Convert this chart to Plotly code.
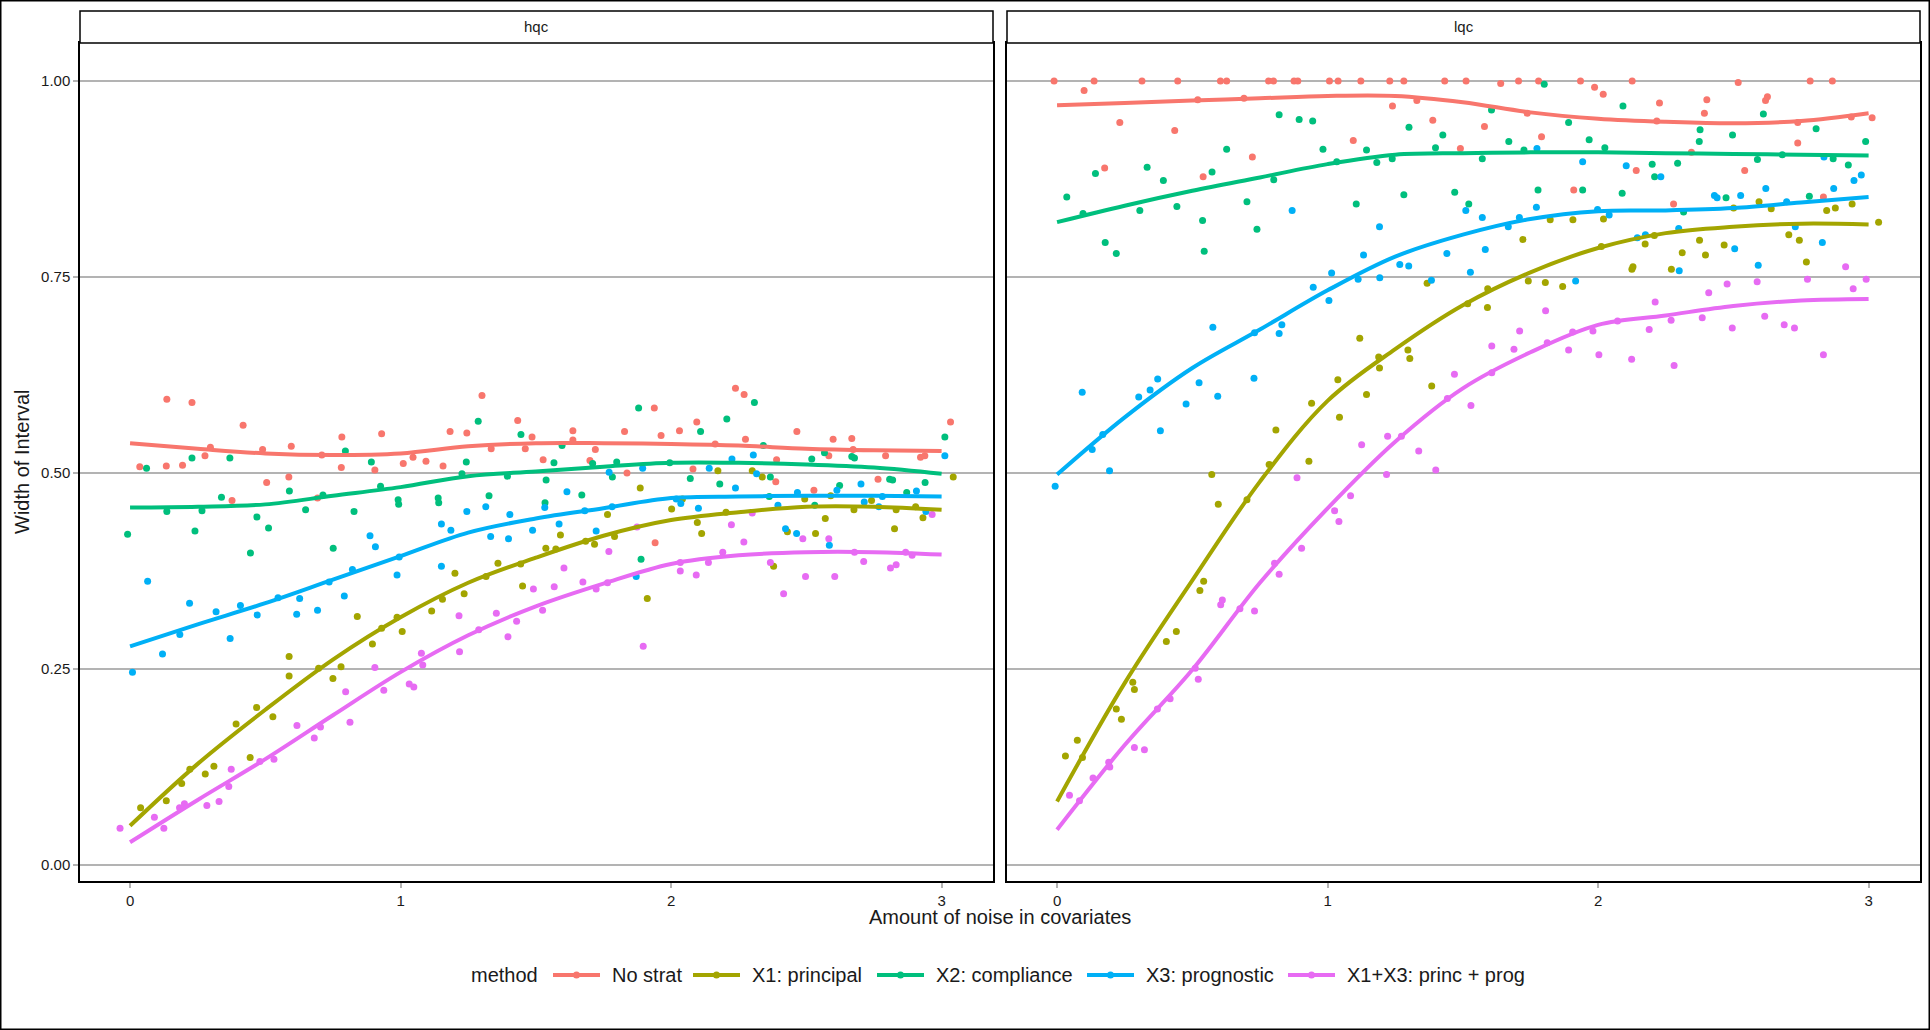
import plotly.graph_objects as go

# ---------------- data ----------------
methods = ["No strat", "X1: principal", "X2: compliance", "X3: prognostic", "X1+X3: princ + prog"]
colors = ["#F8766D", "#A3A500", "#00BF7D", "#00B0F6", "#E76BF3"]
panels = ["hqc", "lqc"]
x_ticks = [0, 1, 2, 3]
y_ticks = [0.0, 0.25, 0.5, 0.75, 1.0]

# --- hqc points ---
hqc_nostrat_x = [0.036,0.136,0.134,0.194,0.229,0.297,0.277,0.418,0.377,0.490,0.505,0.596,0.587,0.693,0.709,0.783,0.781,0.905,0.930,1.010,1.046,1.094,1.157,1.183,1.245,1.301,1.335,1.433,1.461,1.486,1.527,1.637,1.637,1.700,1.720,1.828,1.837,1.938,1.963,1.941,2.031,2.081,2.095,2.163,2.238,2.270,2.275,2.387,2.390,2.465,2.528,2.583,2.599,2.668,2.673,2.765,2.793,2.922,2.938,3.033]
hqc_nostrat_y = [0.508,0.594,0.509,0.510,0.590,0.533,0.522,0.561,0.465,0.530,0.488,0.534,0.495,0.468,0.523,0.546,0.507,0.504,0.550,0.512,0.520,0.515,0.509,0.553,0.551,0.599,0.531,0.567,0.531,0.546,0.517,0.554,0.542,0.516,0.530,0.553,0.500,0.583,0.548,0.411,0.554,0.505,0.565,0.537,0.608,0.600,0.543,0.489,0.517,0.553,0.478,0.522,0.543,0.544,0.530,0.492,0.522,0.520,0.522,0.565]

hqc_x1_x = [0.039,0.134,0.191,0.221,0.278,0.310,0.392,0.444,0.468,0.528,0.588,0.588,0.697,0.750,0.780,0.840,0.896,0.930,0.987,1.006,1.115,1.155,1.201,1.235,1.316,1.360,1.444,1.451,1.537,1.574,1.591,1.684,1.717,1.765,1.791,1.886,1.912,2.002,2.042,2.097,2.113,2.173,2.203,2.300,2.337,2.379,2.430,2.494,2.534,2.570,2.590,2.676,2.741,2.826,2.832,2.904,2.931,3.043]
hqc_x1_y = [0.073,0.082,0.104,0.122,0.116,0.126,0.180,0.137,0.201,0.189,0.241,0.266,0.251,0.238,0.253,0.317,0.282,0.302,0.316,0.298,0.324,0.339,0.372,0.346,0.368,0.385,0.384,0.356,0.404,0.403,0.421,0.413,0.409,0.447,0.419,0.481,0.340,0.454,0.467,0.437,0.423,0.503,0.450,0.503,0.495,0.381,0.425,0.467,0.423,0.442,0.471,0.453,0.465,0.429,0.453,0.457,0.443,0.495]

hqc_x2_x = [-0.009,0.061,0.136,0.229,0.240,0.266,0.338,0.369,0.445,0.469,0.512,0.589,0.649,0.713,0.751,0.796,0.828,0.892,0.926,0.991,0.993,1.139,1.141,1.227,1.243,1.287,1.327,1.395,1.445,1.534,1.538,1.567,1.597,1.670,1.710,1.783,1.799,1.880,1.889,1.995,2.071,2.109,2.180,2.206,2.308,2.341,2.363,2.367,2.520,2.531,2.567,2.623,2.668,2.678,2.808,2.819,2.871,2.939,3.012]
hqc_x2_y = [0.422,0.506,0.451,0.519,0.426,0.452,0.469,0.519,0.398,0.444,0.430,0.477,0.453,0.472,0.404,0.528,0.451,0.514,0.483,0.466,0.460,0.468,0.462,0.499,0.514,0.566,0.471,0.496,0.549,0.462,0.491,0.513,0.535,0.472,0.512,0.495,0.514,0.583,0.390,0.513,0.493,0.553,0.486,0.569,0.590,0.535,0.470,0.495,0.518,0.459,0.526,0.484,0.521,0.519,0.492,0.491,0.475,0.488,0.546]

hqc_x3_x = [0.009,0.065,0.120,0.184,0.220,0.318,0.370,0.408,0.470,0.547,0.616,0.627,0.693,0.736,0.792,0.822,0.887,0.907,0.987,0.995,1.151,1.151,1.186,1.245,1.315,1.333,1.399,1.404,1.488,1.533,1.586,1.615,1.681,1.723,1.771,1.782,1.871,1.895,2.019,2.036,2.101,2.141,2.225,2.238,2.304,2.316,2.395,2.423,2.464,2.467,2.585,2.613,2.702,2.714,2.768,2.781,2.907,2.942,3.012]
hqc_x3_y = [0.246,0.362,0.269,0.294,0.334,0.323,0.289,0.331,0.319,0.341,0.320,0.340,0.325,0.361,0.343,0.377,0.420,0.406,0.370,0.393,0.435,0.381,0.427,0.451,0.457,0.419,0.416,0.447,0.427,0.456,0.435,0.476,0.452,0.426,0.501,0.457,0.368,0.506,0.467,0.461,0.455,0.506,0.518,0.481,0.523,0.499,0.459,0.429,0.423,0.475,0.408,0.478,0.486,0.463,0.457,0.470,0.477,0.451,0.522]

hqc_x13_x = [-0.037,0.090,0.125,0.183,0.201,0.284,0.329,0.365,0.374,0.480,0.532,0.617,0.681,0.704,0.797,0.813,0.905,0.938,1.032,1.049,1.077,1.082,1.216,1.218,1.289,1.354,1.397,1.429,1.491,1.525,1.568,1.604,1.674,1.723,1.765,1.770,1.874,1.897,2.034,2.034,2.093,2.138,2.191,2.223,2.269,2.300,2.367,2.416,2.487,2.497,2.583,2.605,2.678,2.712,2.811,2.832,2.867,2.891,2.965]
hqc_x13_y = [0.047,0.061,0.047,0.073,0.078,0.076,0.081,0.100,0.122,0.132,0.135,0.178,0.162,0.176,0.221,0.182,0.252,0.223,0.231,0.227,0.270,0.255,0.318,0.272,0.300,0.321,0.291,0.311,0.352,0.325,0.355,0.379,0.361,0.352,0.360,0.400,0.431,0.279,0.386,0.375,0.370,0.386,0.399,0.434,0.412,0.449,0.386,0.346,0.416,0.368,0.416,0.368,0.399,0.387,0.379,0.383,0.399,0.395,0.447]

# --- lqc points ---
lqc_nostrat_x = [-0.011,0.100,0.137,0.232,0.176,0.314,0.435,0.446,0.520,0.540,0.604,0.627,0.691,0.722,0.782,0.800,0.876,0.890,1.007,1.039,1.095,1.123,1.230,1.240,1.282,1.330,1.389,1.433,1.491,1.512,1.580,1.640,1.706,1.738,1.780,1.791,1.910,1.935,1.987,2.019,2.126,2.141,2.217,2.227,2.279,2.345,2.393,2.402,2.518,2.542,2.619,2.626,2.738,2.738,2.784,2.833,2.866,2.936,3.013]
lqc_nostrat_y = [1.0,0.988,1.0,0.947,0.889,1.0,0.937,1.0,0.976,0.878,1.0,1.0,0.978,0.903,1.0,1.0,1.0,1.0,1.0,1.0,0.924,1.0,1.0,0.968,1.0,0.975,0.950,1.0,0.914,1.0,0.942,0.997,1.0,0.959,1.0,0.929,0.861,1.0,0.992,0.983,1.0,0.886,0.949,0.972,0.843,0.909,0.959,0.976,0.998,0.886,0.975,0.980,0.921,0.947,1.0,0.852,1.0,0.954,0.953]

lqc_x1_x = [0.031,0.075,0.094,0.219,0.238,0.280,0.286,0.404,0.441,0.528,0.542,0.572,0.596,0.702,0.784,0.809,0.931,0.941,1.038,1.044,1.119,1.144,1.189,1.192,1.297,1.304,1.368,1.385,1.518,1.591,1.592,1.722,1.742,1.805,1.823,1.869,1.907,2.012,2.020,2.125,2.129,2.174,2.208,2.271,2.311,2.375,2.397,2.466,2.501,2.595,2.640,2.705,2.744,2.770,2.845,2.877,2.939,3.037]
lqc_x1_y = [0.139,0.159,0.137,0.199,0.186,0.233,0.224,0.285,0.298,0.350,0.362,0.498,0.460,0.466,0.511,0.555,0.515,0.589,0.619,0.571,0.672,0.600,0.648,0.634,0.657,0.646,0.742,0.611,0.716,0.711,0.735,0.798,0.745,0.743,0.823,0.738,0.823,0.789,0.824,0.760,0.763,0.792,0.803,0.760,0.781,0.797,0.778,0.791,0.838,0.846,0.837,0.804,0.797,0.769,0.835,0.838,0.843,0.820]

lqc_x2_x = [0.036,0.096,0.142,0.178,0.219,0.306,0.333,0.393,0.443,0.538,0.544,0.573,0.627,0.702,0.739,0.801,0.821,0.895,0.945,0.983,1.034,1.106,1.144,1.182,1.239,1.282,1.301,1.399,1.426,1.470,1.522,1.572,1.606,1.670,1.726,1.778,1.801,1.891,1.943,1.967,2.025,2.089,2.092,2.200,2.209,2.294,2.316,2.374,2.377,2.473,2.497,2.589,2.611,2.681,2.781,2.806,2.869,2.925,2.989]
lqc_x2_y = [0.852,0.831,0.882,0.794,0.780,0.835,0.890,0.873,0.840,0.822,0.783,0.884,0.913,0.846,0.811,0.874,0.957,0.951,0.949,0.913,0.897,0.843,0.912,0.896,0.901,0.855,0.941,0.915,0.931,0.858,0.843,0.901,0.963,0.923,0.912,0.861,0.996,0.947,0.861,0.925,0.915,0.857,0.968,0.894,0.878,0.895,0.833,0.923,0.938,0.851,0.931,0.900,0.958,0.906,0.853,0.939,0.901,0.893,0.923]

lqc_x3_x = [-0.007,0.093,0.130,0.169,0.194,0.302,0.344,0.372,0.382,0.477,0.525,0.576,0.594,0.728,0.730,0.821,0.831,0.869,0.947,1.005,1.015,1.113,1.133,1.192,1.193,1.267,1.300,1.384,1.441,1.511,1.528,1.572,1.583,1.668,1.709,1.772,1.774,1.917,1.943,1.998,2.041,2.104,2.145,2.175,2.232,2.298,2.300,2.430,2.440,2.505,2.527,2.592,2.620,2.697,2.729,2.829,2.835,2.871,2.946,2.973]
lqc_x3_y = [0.483,0.603,0.530,0.549,0.503,0.597,0.606,0.620,0.554,0.588,0.615,0.686,0.598,0.621,0.679,0.678,0.689,0.835,0.737,0.720,0.755,0.747,0.778,0.814,0.749,0.766,0.764,0.746,0.780,0.835,0.756,0.826,0.785,0.814,0.826,0.839,0.914,0.745,0.897,0.836,0.829,0.892,0.800,0.804,0.878,0.812,0.758,0.854,0.851,0.786,0.854,0.765,0.863,0.846,0.814,0.794,0.903,0.863,0.873,0.880]

lqc_x13_x = [0.046,0.083,0.133,0.191,0.195,0.286,0.323,0.371,0.418,0.511,0.522,0.605,0.611,0.676,0.730,0.804,0.821,0.887,0.904,1.026,1.042,1.085,1.126,1.218,1.222,1.273,1.337,1.400,1.443,1.469,1.530,1.607,1.607,1.689,1.710,1.806,1.812,1.891,1.906,1.981,2.003,2.072,2.124,2.189,2.211,2.270,2.281,2.385,2.409,2.477,2.496,2.588,2.616,2.688,2.726,2.774,2.833,2.915,2.943,2.991]
lqc_x13_y = [0.089,0.082,0.111,0.131,0.125,0.150,0.147,0.199,0.212,0.251,0.237,0.332,0.338,0.327,0.324,0.385,0.371,0.494,0.404,0.452,0.438,0.471,0.536,0.498,0.547,0.547,0.528,0.504,0.595,0.626,0.586,0.662,0.628,0.658,0.681,0.707,0.666,0.657,0.680,0.681,0.651,0.694,0.645,0.683,0.718,0.695,0.637,0.698,0.730,0.741,0.685,0.744,0.700,0.689,0.685,0.747,0.651,0.763,0.735,0.747]

# --- smoothed (loess) curves ---
smooth_x = [0.0, 0.25, 0.5, 0.75, 1.0, 1.25, 1.5, 1.75, 2.0, 2.25, 2.5, 2.75, 3.0]
hqc_nostrat_fit = [0.538,0.531,0.525,0.523,0.525,0.534,0.538,0.538,0.537,0.535,0.531,0.529,0.528]
hqc_x1_fit = [0.050,0.129,0.198,0.262,0.316,0.360,0.392,0.420,0.440,0.450,0.457,0.457,0.453]
hqc_x2_fit = [0.456,0.457,0.460,0.471,0.482,0.496,0.502,0.508,0.513,0.513,0.511,0.507,0.499]
hqc_x3_fit = [0.279,0.307,0.334,0.364,0.394,0.424,0.442,0.455,0.468,0.470,0.471,0.471,0.470]
hqc_x13_fit = [0.029,0.083,0.135,0.191,0.246,0.293,0.330,0.359,0.384,0.395,0.399,0.399,0.396]
lqc_nostrat_fit = [0.969,0.972,0.975,0.978,0.981,0.981,0.973,0.960,0.952,0.948,0.946,0.949,0.959]
lqc_x1_fit = [0.081,0.232,0.363,0.489,0.592,0.658,0.714,0.756,0.787,0.806,0.814,0.818,0.817]
lqc_x2_fit = [0.820,0.841,0.860,0.877,0.894,0.906,0.908,0.909,0.909,0.908,0.907,0.906,0.905]
lqc_x3_fit = [0.498,0.571,0.634,0.683,0.733,0.776,0.804,0.824,0.834,0.835,0.838,0.845,0.852]
lqc_x13_fit = [0.045,0.153,0.249,0.360,0.455,0.540,0.608,0.654,0.689,0.701,0.713,0.720,0.722]

x_title = "Amount of noise in covariates"
y_title = "Width of Interval"
legend_title = "method"

# ---------------- figure ----------------
W, H = 1930, 1030
FONT = "Liberation Sans, Arial, Helvetica, sans-serif"
TXT = "#1a1a1a"

points = {
    "hqc": [(hqc_nostrat_x, hqc_nostrat_y), (hqc_x1_x, hqc_x1_y), (hqc_x2_x, hqc_x2_y),
            (hqc_x3_x, hqc_x3_y), (hqc_x13_x, hqc_x13_y)],
    "lqc": [(lqc_nostrat_x, lqc_nostrat_y), (lqc_x1_x, lqc_x1_y), (lqc_x2_x, lqc_x2_y),
            (lqc_x3_x, lqc_x3_y), (lqc_x13_x, lqc_x13_y)],
}
fits = {
    "hqc": [hqc_nostrat_fit, hqc_x1_fit, hqc_x2_fit, hqc_x3_fit, hqc_x13_fit],
    "lqc": [lqc_nostrat_fit, lqc_x1_fit, lqc_x2_fit, lqc_x3_fit, lqc_x13_fit],
}
axes = {"hqc": ("x", "y"), "lqc": ("x2", "y2")}

fig = go.Figure()

# points first (as in ggplot layer order)
for p in panels:
    xa, ya = axes[p]
    for i, m in enumerate(methods):
        xs, ys = points[p][i]
        fig.add_trace(go.Scatter(x=xs, y=ys, mode="markers", xaxis=xa, yaxis=ya, name=m,
                                 marker=dict(color=colors[i], size=7, line=dict(width=0)),
                                 showlegend=False, hoverinfo="skip"))
# smooth lines
for p in panels:
    xa, ya = axes[p]
    for i, m in enumerate(methods):
        fig.add_trace(go.Scatter(x=smooth_x, y=fits[p][i], mode="lines", xaxis=xa, yaxis=ya, name=m,
                                 line=dict(color=colors[i], width=4, shape="spline", smoothing=1.0),
                                 showlegend=False, hoverinfo="skip"))

# geometry (pixels)
L_x0, L_x1 = 80, 993
R_x0, R_x1 = 1007, 1920
P_top, P_bot = 43, 881
S_top = 11

def fx(px):
    return px / W

def fy(py):
    return 1 - py / H

x_range = [-0.185, 3.19]
y_range = [-0.0204, 1.0485]

common_x = dict(range=x_range, tickvals=x_ticks, ticktext=[str(t) for t in x_ticks],
                showgrid=False, zeroline=False, showline=True, mirror=True,
                linecolor="black", linewidth=1.5, ticks="outside", ticklen=5,
                tickcolor="#b3b3b3", tickwidth=1.8,
                tickfont=dict(family=FONT, size=15, color=TXT), fixedrange=True)
common_y = dict(range=y_range, tickvals=y_ticks, showgrid=True, gridcolor="#b3b3b3",
                gridwidth=1.8, zeroline=False, showline=True, mirror=True,
                linecolor="black", linewidth=1.5, fixedrange=True)

fig.update_layout(
    width=W, height=H,
    margin=dict(l=0, r=0, t=0, b=0),
    paper_bgcolor="white", plot_bgcolor="white",
    font=dict(family=FONT, color=TXT),
    xaxis=dict(domain=[fx(L_x0), fx(L_x1)], anchor="y", **common_x),
    xaxis2=dict(domain=[fx(R_x0), fx(R_x1)], anchor="y2", **common_x),
    yaxis=dict(domain=[fy(P_bot), fy(P_top)], anchor="x",
               ticktext=[f"{v:.2f}" for v in y_ticks], ticks="outside", ticklen=5,
               tickcolor="#b3b3b3", tickwidth=1.8,
               tickfont=dict(family=FONT, size=15, color=TXT), **common_y),
    yaxis2=dict(domain=[fy(P_bot), fy(P_top)], anchor="x2", showticklabels=False,
                ticks="", **common_y),
    showlegend=False,
)

shapes = []
annotations = []
for p, (x0, x1) in zip(panels, [(L_x0, L_x1), (R_x0, R_x1)]):
    shapes.append(dict(type="rect", xref="paper", yref="paper", x0=fx(x0), x1=fx(x1),
                       y0=fy(P_top), y1=fy(S_top), line=dict(color="black", width=1.5),
                       fillcolor="white", layer="above"))
    annotations.append(dict(text=p, xref="paper", yref="paper", x=fx((x0 + x1) / 2),
                            y=fy((S_top + P_top) / 2), showarrow=False, xanchor="center",
                            yanchor="middle", font=dict(family=FONT, size=15, color=TXT)))
# outer frame
shapes.append(dict(type="rect", xref="paper", yref="paper", x0=0, x1=1, y0=0, y1=1,
                   line=dict(color="black", width=3), fillcolor="rgba(0,0,0,0)", layer="above"))

annotations.append(dict(text=x_title, xref="paper", yref="paper", x=fx(1000), y=fy(917),
                        showarrow=False, xanchor="center", yanchor="middle",
                        font=dict(family=FONT, size=20, color=TXT)))
annotations.append(dict(text=y_title, xref="paper", yref="paper", x=fx(22), y=fy(462),
                        showarrow=False, xanchor="center", yanchor="middle", textangle=-90,
                        font=dict(family=FONT, size=20, color=TXT)))

# ---- legend (drawn like ggplot's bottom legend) ----
LEG_Y = 975
legend_title_x = 469
key_starts = [553, 693, 877, 1087, 1288]
KEY_LEN = 47
annotations.append(dict(text=legend_title, xref="paper", yref="paper", x=fx(legend_title_x),
                        y=fy(LEG_Y), showarrow=False, xanchor="left", yanchor="middle",
                        font=dict(family=FONT, size=20, color=TXT)))
for i, m in enumerate(methods):
    k0 = key_starts[i]
    k1 = k0 + KEY_LEN
    shapes.append(dict(type="line", xref="paper", yref="paper", x0=fx(k0), x1=fx(k1),
                       y0=fy(LEG_Y), y1=fy(LEG_Y), line=dict(color=colors[i], width=4)))
    cx = (k0 + k1) / 2
    shapes.append(dict(type="circle", xref="paper", yref="paper",
                       x0=fx(cx - 3.5), x1=fx(cx + 3.5), y0=fy(LEG_Y + 3.5), y1=fy(LEG_Y - 3.5),
                       fillcolor=colors[i], line=dict(width=0)))
    annotations.append(dict(text=m, xref="paper", yref="paper", x=fx(k1 + 10), y=fy(LEG_Y),
                            showarrow=False, xanchor="left", yanchor="middle",
                            font=dict(family=FONT, size=20, color=TXT)))

fig.update_layout(shapes=shapes, annotations=annotations)
fig.write_html("out.html")
